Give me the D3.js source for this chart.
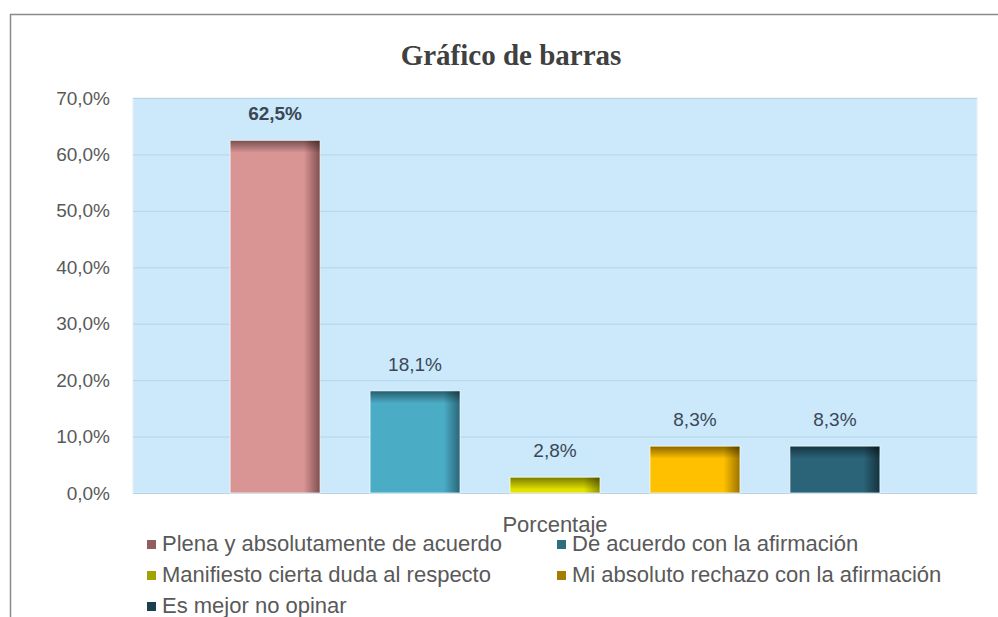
<!DOCTYPE html>
<html>
<head>
<meta charset="utf-8">
<script src="https://cdn.jsdelivr.net/npm/d3@7"></script>
<style>
  body { margin: 0; background: #fff; }
  svg text { font-family: "Liberation Sans", Arial, sans-serif; }
</style>
</head>
<body>
<div id="chart"></div>
<script>
// data
const category = "Porcentaje";
const series = [
    "Plena y absolutamente de acuerdo",
    "De acuerdo con la afirmación",
    "Manifiesto cierta duda al respecto",
    "Mi absoluto rechazo con la afirmación",
    "Es mejor no opinar"
];
const values = [0.625, 0.181, 0.028, 0.083, 0.083];
const yTicks = [0, 0.1, 0.2, 0.3, 0.4, 0.5, 0.6, 0.7];

const barColors = ["#d99594", "#4bacc6", "#e3e300", "#ffc000", "#2b6378"];
const darkColors = ["#7e4f4e", "#2a6577", "#8f8f00", "#9a7300", "#14323f"];
const swatchColors = ["#8f5f5f", "#2f6e7f", "#a3a300", "#a57c00", "#1c3f4f"];

const W = 998, H = 617;
const margin = {top: 98, right: 21, bottom: 124, left: 133};
const width = W - margin.left - margin.right,
      height = H - margin.top - margin.bottom;

const fmt = v => d3.format(".1%")(v).replace(".", ",");

const svg = d3.select("#chart")
    .append("svg")
    .attr("width", W)
    .attr("height", H);

// chart frame (cut off at right and bottom)
svg.append("path")
    .attr("d", `M10.5,${H} L10.5,14.5 L${W},14.5`)
    .attr("fill", "none")
    .attr("stroke", "#8a8a8a")
    .attr("stroke-width", 1.5);

svg.append("text")
    .attr("x", 511)
    .attr("y", 65)
    .attr("text-anchor", "middle")
    .style("font-family", "'Liberation Serif', 'Times New Roman', serif")
    .style("font-weight", "bold")
    .style("font-size", "29px")
    .attr("fill", "#404040")
    .text("Gráfico de barras");

const g = svg.append("g")
    .attr("transform", `translate(${margin.left}, ${margin.top})`);

// one category, five series side by side
let x0 = d3.scaleBand()
    .domain([category])
    .range([0, width])
    .paddingOuter(0.103);

let x1 = d3.scaleBand()
    .domain(series)
    .range([0, x0.bandwidth()])
    .paddingInner(0.357)
    .paddingOuter(0.1786);

let y = d3.scaleLinear()
    .domain([0, 0.7])
    .range([height, 0]);

g.append("rect")
    .attr("width", width)
    .attr("height", height)
    .attr("fill", "#cbe9fa")
    .attr("stroke", "#e6eef2")
    .attr("stroke-width", 1);

// gridlines
g.append("g")
    .call(d3.axisLeft(y).tickValues(yTicks).tickSize(-width).tickFormat(""))
    .call(a => a.select(".domain").remove())
    .call(a => a.selectAll("line").attr("stroke", "#b5d4e6"));

// y labels
g.append("g")
    .call(d3.axisLeft(y).tickValues(yTicks).tickSize(0).tickPadding(23).tickFormat(fmt))
    .call(a => a.select(".domain").remove())
    .call(a => a.selectAll("text")
        .style("font-family", "'Liberation Sans', Arial, sans-serif")
        .style("font-size", "19px")
        .attr("fill", "#595959"));

// gradients
const defs = svg.append("defs");
series.forEach(function(s, i) {
    const gr = defs.append("linearGradient")
        .attr("id", "side" + i)
        .attr("x1", "0").attr("x2", "1").attr("y1", "0").attr("y2", "0");
    gr.append("stop").attr("offset", "0").attr("stop-color", barColors[i]);
    gr.append("stop").attr("offset", "0.82").attr("stop-color", barColors[i]);
    gr.append("stop").attr("offset", "1").attr("stop-color", darkColors[i]);
});
const topGrad = defs.append("linearGradient")
    .attr("id", "topShade")
    .attr("x1", "0").attr("x2", "0").attr("y1", "0").attr("y2", "1");
topGrad.append("stop").attr("offset", "0").attr("stop-color", "#000").attr("stop-opacity", 0.45);
topGrad.append("stop").attr("offset", "1").attr("stop-color", "#000").attr("stop-opacity", 0);

const bars = g.append("g")
    .attr("transform", `translate(${x0(category)}, 0)`)
    .selectAll("g")
    .data(series.map((s, i) => ({s: s, v: values[i], i: i})))
    .enter()
    .append("g");

bars.append("rect")
    .attr("x", d => x1(d.s))
    .attr("y", d => y(d.v))
    .attr("width", x1.bandwidth())
    .attr("height", d => height - y(d.v))
    .attr("fill", d => `url(#side${d.i})`)
    .attr("stroke", "#fff")
    .attr("stroke-opacity", 0.7)
    .attr("stroke-width", 1);

bars.append("rect")
    .attr("x", d => x1(d.s) + 0.5)
    .attr("y", d => y(d.v) + 0.5)
    .attr("width", x1.bandwidth() - 1)
    .attr("height", d => Math.min(12, height - y(d.v) - 1))
    .attr("fill", "url(#topShade)");

bars.append("text")
    .attr("x", d => x1(d.s) + x1.bandwidth() / 2)
    .attr("y", d => y(d.v) - 20)
    .attr("text-anchor", "middle")
    .style("font-size", "19px")
    .style("font-weight", d => d.i === 0 ? "bold" : "normal")
    .attr("fill", "#3a4757")
    .text(d => fmt(d.v));

// axis title
svg.append("text")
    .attr("x", margin.left + x0(category) + x0.bandwidth() / 2)
    .attr("y", 532)
    .attr("text-anchor", "middle")
    .style("font-size", "22px")
    .attr("fill", "#595959")
    .text(category);

// legend, two columns
const legend = svg.append("g")
    .selectAll("g")
    .data(series)
    .enter()
    .append("g")
    .attr("transform", (d, i) => `translate(${i % 2 ? 557 : 147}, ${551 + Math.floor(i / 2) * 31})`);

legend.append("rect")
    .attr("x", 0)
    .attr("y", -11)
    .attr("width", 9)
    .attr("height", 9)
    .attr("fill", (d, i) => swatchColors[i]);

legend.append("text")
    .attr("x", 15)
    .attr("y", 0)
    .style("font-size", "22px")
    .attr("fill", "#595959")
    .text(d => d);
</script>
</body>
</html>
